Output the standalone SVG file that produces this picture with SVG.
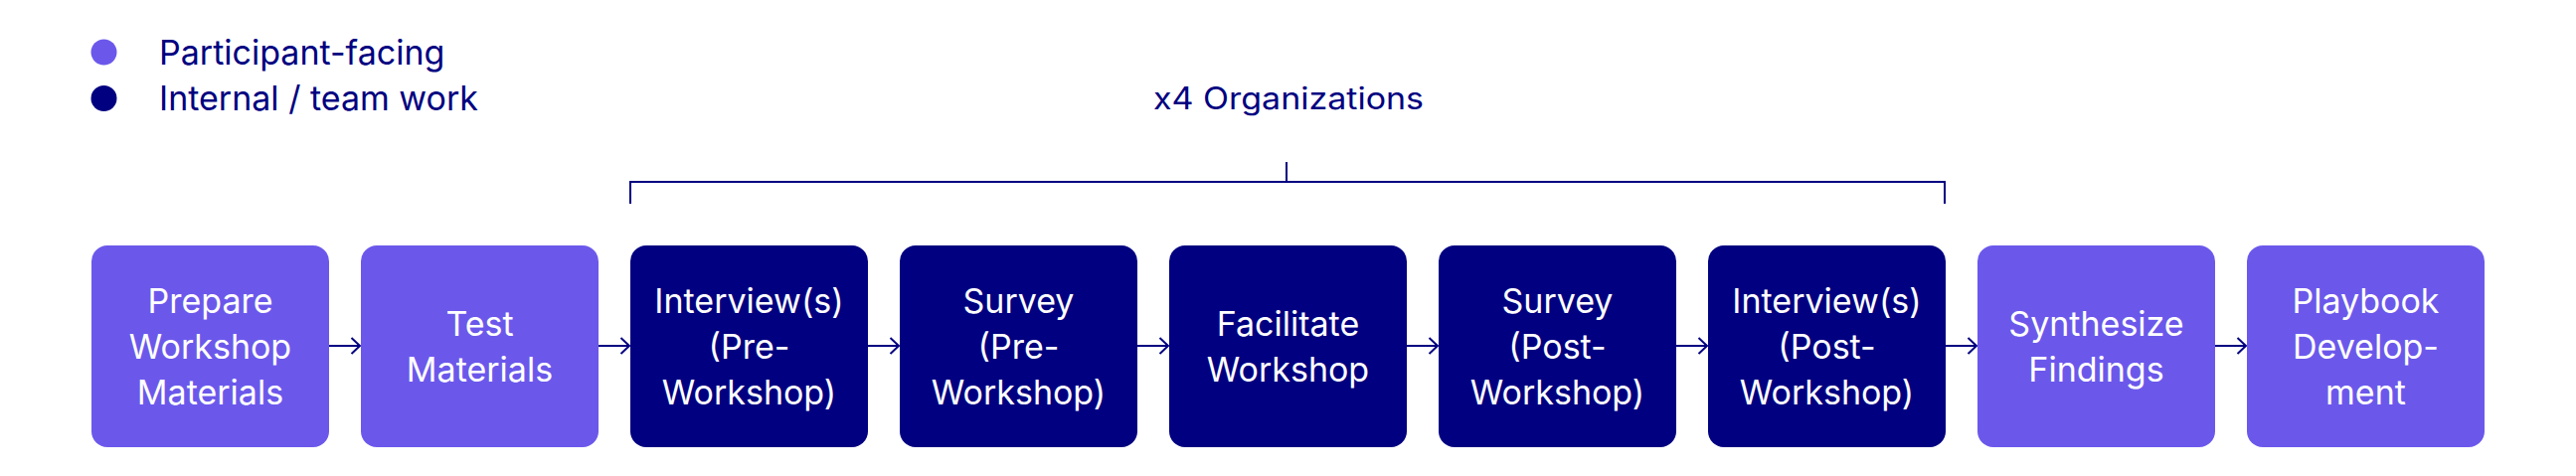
<svg xmlns="http://www.w3.org/2000/svg" width="2591" height="479" viewBox="0 0 2591 479">
<style>
.lt{fill:#6B58EB}
.dk{fill:#000080}
.bt{font-family:Inter,"Liberation Sans",sans-serif;font-size:34px;fill:#ffffff;text-anchor:middle}
.lg{font-family:Inter,"Liberation Sans",sans-serif;font-size:34px;fill:#000080}
.cn{stroke:#000080;stroke-width:2;fill:none}
</style>
<defs>
<marker id="ah" markerWidth="12" markerHeight="20" refX="10" refY="9" orient="auto" markerUnits="userSpaceOnUse" viewBox="0 0 12 20">
<path d="M1.5,1 L10,9 L1.5,17" fill="none" stroke="#000080" stroke-width="2"/>
</marker>
</defs>
<rect width="2591" height="479" fill="#ffffff"/>
<g id="legend">
<circle cx="104.5" cy="52.5" r="13" class="lt"/>
<text x="160" y="65" class="lg">Participant-facing</text>
<circle cx="104.5" cy="99" r="13" class="dk"/>
<text x="160" y="111" class="lg">Internal / team work</text>
</g>
<g id="group-label">
<text class="lg" text-anchor="middle" transform="translate(1296,110) scale(1,0.9)">x4 Organizations</text>
<path class="cn" d="M634,205 V183 H1956 V205 M1294,183 V163"/>
</g>
<g id="connectors">
<line class="cn" x1="331" y1="348" x2="362" y2="348" marker-end="url(#ah)"/>
<line class="cn" x1="602" y1="348" x2="633" y2="348" marker-end="url(#ah)"/>
<line class="cn" x1="873" y1="348" x2="904" y2="348" marker-end="url(#ah)"/>
<line class="cn" x1="1144" y1="348" x2="1175" y2="348" marker-end="url(#ah)"/>
<line class="cn" x1="1415" y1="348" x2="1446" y2="348" marker-end="url(#ah)"/>
<line class="cn" x1="1686" y1="348" x2="1717" y2="348" marker-end="url(#ah)"/>
<line class="cn" x1="1957" y1="348" x2="1988" y2="348" marker-end="url(#ah)"/>
<line class="cn" x1="2228" y1="348" x2="2259" y2="348" marker-end="url(#ah)"/>
</g>
<g id="n1"><rect x="92" y="247" width="239" height="203" rx="16" class="lt"/>
<text class="bt" x="211.5" y="315">Prepare</text><text class="bt" x="211.5" y="361">Workshop</text><text class="bt" x="211.5" y="407">Materials</text></g>
<g id="n2"><rect x="363" y="247" width="239" height="203" rx="16" class="lt"/>
<text class="bt" x="482.5" y="338">Test</text><text class="bt" x="482.5" y="384">Materials</text></g>
<g id="n3"><rect x="634" y="247" width="239" height="203" rx="16" class="dk"/>
<text class="bt" x="753.5" y="315">Interview(s)</text><text class="bt" x="753.5" y="361">(Pre-</text><text class="bt" x="753.5" y="407">Workshop)</text></g>
<g id="n4"><rect x="905" y="247" width="239" height="203" rx="16" class="dk"/>
<text class="bt" x="1024.5" y="315">Survey</text><text class="bt" x="1024.5" y="361">(Pre-</text><text class="bt" x="1024.5" y="407">Workshop)</text></g>
<g id="n5"><rect x="1176" y="247" width="239" height="203" rx="16" class="dk"/>
<text class="bt" x="1295.5" y="338">Facilitate</text><text class="bt" x="1295.5" y="384">Workshop</text></g>
<g id="n6"><rect x="1447" y="247" width="239" height="203" rx="16" class="dk"/>
<text class="bt" x="1566.5" y="315">Survey</text><text class="bt" x="1566.5" y="361">(Post-</text><text class="bt" x="1566.5" y="407">Workshop)</text></g>
<g id="n7"><rect x="1718" y="247" width="239" height="203" rx="16" class="dk"/>
<text class="bt" x="1837.5" y="315">Interview(s)</text><text class="bt" x="1837.5" y="361">(Post-</text><text class="bt" x="1837.5" y="407">Workshop)</text></g>
<g id="n8"><rect x="1989" y="247" width="239" height="203" rx="16" class="lt"/>
<text class="bt" x="2108.5" y="338">Synthesize</text><text class="bt" x="2108.5" y="384">Findings</text></g>
<g id="n9"><rect x="2260" y="247" width="239" height="203" rx="16" class="lt"/>
<text class="bt" x="2379.5" y="315">Playbook</text><text class="bt" x="2379.5" y="361">Develop-</text><text class="bt" x="2379.5" y="407">ment</text></g>
</svg>
